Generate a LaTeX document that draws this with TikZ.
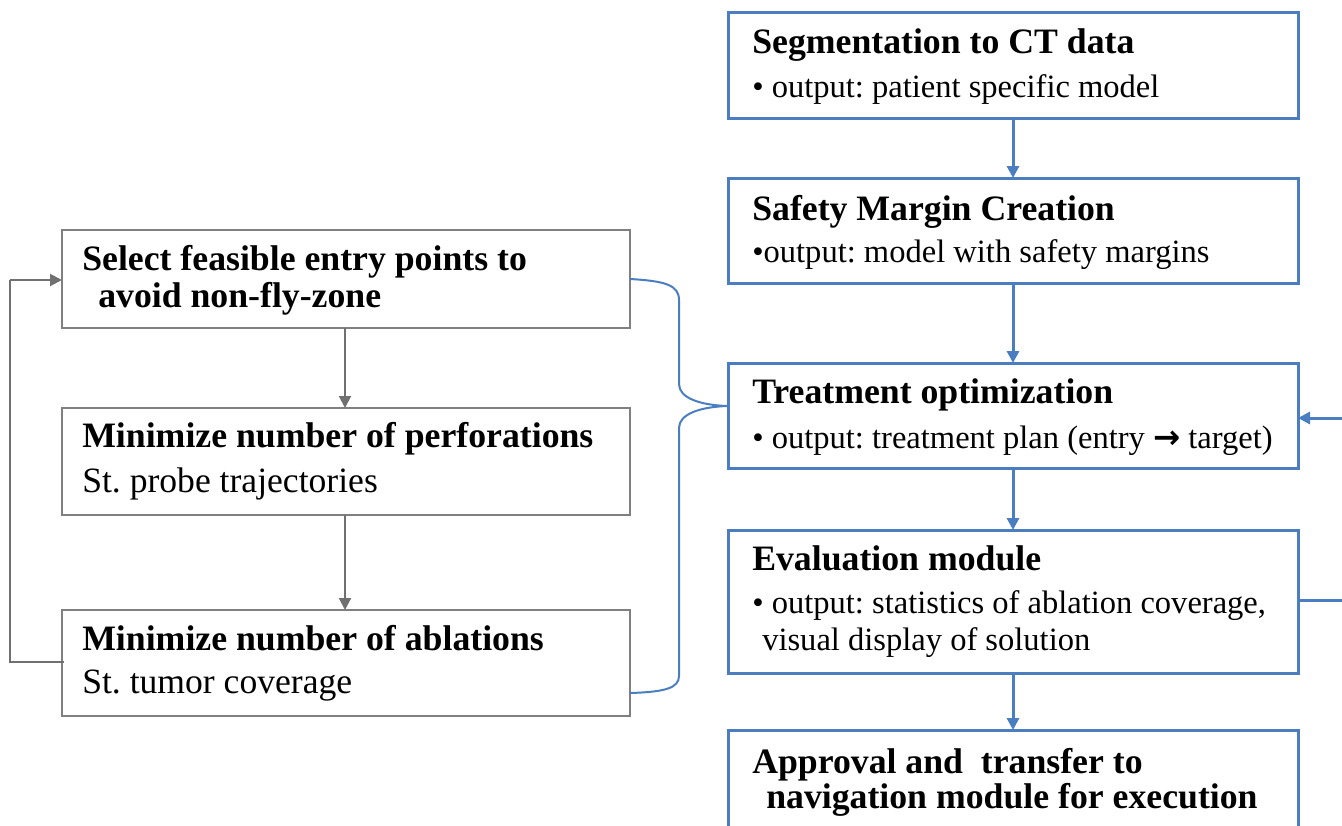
\documentclass[tikz,border=0pt]{standalone}
\usepackage{fontspec}
\setmainfont{Liberation Serif}
\newfontfamily\symfont{DejaVu Sans}
\usetikzlibrary{arrows.meta}
\definecolor{myblue}{RGB}{74,126,193}
\definecolor{mygray}{RGB}{128,128,128}
\definecolor{arrgray}{RGB}{112,112,112}
\frenchspacing
\begin{document}
\begin{tikzpicture}[x=0.75pt,y=-0.75pt,
  bluebox/.style={draw=myblue, line width=2.25pt, inner sep=0pt, outer sep=0pt, anchor=north west, minimum width=427.5pt},
  graybox/.style={draw=mygray, line width=1.5pt, inner sep=0pt, outer sep=0pt, anchor=north west, minimum width=426pt},
  hdr/.style={font=\fontsize{26.8}{32}\selectfont\bfseries, inner sep=0pt, anchor=base west},
  rbody/.style={font=\fontsize{24.4}{29}\selectfont, inner sep=0pt, anchor=base west},
  lbody/.style={font=\fontsize{26.7}{32}\selectfont, inner sep=0pt, anchor=base west},
  bluearrow/.style={draw=myblue, line width=2.25pt, -{Triangle[length=9pt,width=9pt]}},
  grayarrow/.style={draw=arrgray, line width=1.5pt, -{Triangle[length=9pt,width=9pt]}},
  brace/.style={draw=myblue, line width=1.5pt}
]
\useasboundingbox (0,0) rectangle (1342,825);

% right column boxes
\node[bluebox, minimum height=79.5pt] (seg) at (728,12) {};
\node[bluebox, minimum height=78.75pt] (saf) at (728,178) {};
\node[bluebox, minimum height=78.75pt] (tre) at (728,363) {};
\node[bluebox, minimum height=107.25pt] (eva) at (728,530) {};
\node[bluebox, minimum height=90pt] (app) at (728,730) {};

% right column texts
\node[hdr] (segh) at (752,53) {Segmentation to CT data};
\node[rbody] (segb) at (752,97) {• output: patient specific model};
\node[hdr] (safh) at (752,220) {Safety Margin Creation};
\node[rbody] (safb) at (752,262) {•output: model with safety margins};
\node[hdr] (treh) at (752,403) {Treatment optimization};
\node[rbody] (treb) at (752,448) {• output: treatment plan (entry {\symfont\bfseries →} target)};
\node[hdr] (evah) at (752,570) {Evaluation module};
\node[rbody] (evab1) at (752,613) {• output: statistics of ablation coverage,};
\node[rbody] (evab2) at (762,650) {visual display of solution};
\node[hdr] (apph1) at (752,773) {Approval and\ \ transfer to};
\node[hdr] (apph2) at (766,808) {navigation module for execution};

% right column arrows
\draw[bluearrow] (seg.south) -- (saf.north);
\draw[bluearrow] (saf.south) -- (tre.north);
\draw[bluearrow] (tre.south) -- (eva.north);
\draw[bluearrow] (eva.south) -- (app.north);

% right feedback loop (continues beyond the picture edge)
\coordinate (fbA) at (1350,600);
\coordinate (fbB) at (1350,418);
\draw[draw=myblue, line width=2.25pt] (eva.east |- fbA) -- (fbA) -- (fbB);
\draw[bluearrow] (fbB) -- (tre.east |- fbB);

% left column boxes
\node[graybox, minimum height=73.5pt] (sel) at (62,230) {};
\node[graybox, minimum height=80.25pt] (per) at (62,408) {};
\node[graybox, minimum height=79.5pt] (abl) at (62,610) {};

% left column texts
\node[hdr] (selh1) at (82,270) {Select feasible entry points to};
\node[hdr] (selh2) at (98,307) {avoid non-fly-zone};
\node[hdr] (perh) at (82,447) {Minimize number of perforations};
\node[lbody] (perb) at (82,492) {St. probe trajectories};
\node[hdr] (ablh) at (82,650) {Minimize number of ablations};
\node[lbody] (ablb) at (82,693) {St. tumor coverage};

% left arrows
\draw[grayarrow] (sel.south -| 345,0) -- (per.north -| 345,0);
\draw[grayarrow] (per.south -| 345,0) -- (abl.north -| 345,0);

% left loop
\coordinate (lpA) at (10,662);
\coordinate (lpB) at (10,280);
\draw[draw=arrgray, line width=1.5pt] (abl.west |- lpA) ++(2,0) -- (lpA) -- (lpB);
\draw[grayarrow] (lpB) -- (sel.west |- lpB);

% brace
\coordinate (brtip) at (727,406);
\draw[brace] (sel.east |- 0,279) .. controls (665,281) and (679,285) .. (679,300)
  -- (679,384) .. controls (679,398) and (700,405) .. (brtip);
\draw[brace] (brtip) .. controls (700,407) and (679,414) .. (679,428)
  -- (679,676) .. controls (679,688) and (665,692) .. (abl.east |- 0,693);
\end{tikzpicture}
\end{document}
